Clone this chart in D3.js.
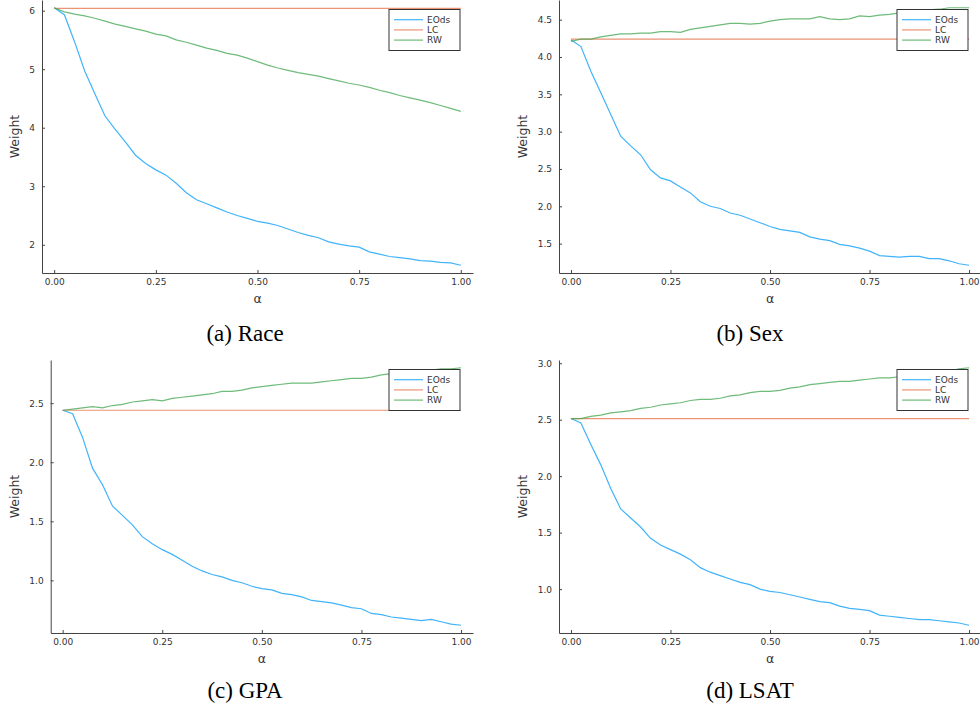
<!DOCTYPE html>
<html>
<head>
<meta charset="utf-8">
<script src="https://cdn.jsdelivr.net/npm/d3@7"></script>
<style>
  body { margin: 0; background: #fff; }
  svg { display: block; }
  .tick text { font-family: "DejaVu Sans", sans-serif; font-size: 9px; fill: #333; }
  .axis path, .axis line { stroke: #444; }
</style>
</head>
<body>
<div id="chart"></div>
<script>
// alpha grid shared by all four panels
const alpha = d3.range(41).map(i => i / 40);

// (a) Race
const raceEOds = [6.05, 5.93, 5.47, 4.97, 4.58, 4.20, 3.97, 3.76, 3.53, 3.39, 3.28, 3.19, 3.05, 2.89, 2.77, 2.70, 2.63, 2.56, 2.50, 2.45, 2.40,
                  2.37, 2.33, 2.27, 2.21, 2.16, 2.12, 2.05, 2.01, 1.98, 1.96, 1.88, 1.84, 1.80, 1.78, 1.76, 1.73, 1.72, 1.70, 1.69, 1.65];
const raceLC = 6.04;
const raceRW = [6.05, 5.98, 5.94, 5.91, 5.87, 5.82, 5.77, 5.73, 5.69, 5.65, 5.60, 5.57, 5.50, 5.46, 5.41, 5.36, 5.32, 5.27, 5.24, 5.19, 5.13,
                5.07, 5.02, 4.98, 4.94, 4.91, 4.88, 4.84, 4.80, 4.76, 4.73, 4.69, 4.64, 4.60, 4.55, 4.51, 4.47, 4.43, 4.38, 4.33, 4.28];

// (b) Sex
const sexEOds = [4.23, 4.14, 3.81, 3.52, 3.23, 2.94, 2.81, 2.69, 2.49, 2.38, 2.34, 2.26, 2.18, 2.06, 2.00, 1.97, 1.91, 1.88, 1.83, 1.78, 1.73,
                 1.69, 1.67, 1.65, 1.59, 1.56, 1.54, 1.49, 1.47, 1.44, 1.40, 1.34, 1.33, 1.32, 1.33, 1.33, 1.30, 1.30, 1.27, 1.23, 1.21];
const sexLC = 4.24;
const sexRW = [4.21, 4.24, 4.24, 4.27, 4.29, 4.31, 4.31, 4.32, 4.32, 4.34, 4.34, 4.33, 4.37, 4.39, 4.41, 4.43, 4.45, 4.45, 4.44, 4.45, 4.48,
               4.50, 4.51, 4.51, 4.51, 4.54, 4.51, 4.50, 4.51, 4.55, 4.54, 4.56, 4.57, 4.59, 4.61, 4.62, 4.63, 4.64, 4.66, 4.66, 4.66];

// (c) GPA
const gpaEOds = [2.44, 2.41, 2.21, 1.95, 1.81, 1.63, 1.55, 1.47, 1.37, 1.31, 1.26, 1.22, 1.17, 1.12, 1.08, 1.05, 1.03, 1.00, 0.98, 0.95, 0.93,
                 0.92, 0.89, 0.88, 0.86, 0.83, 0.82, 0.81, 0.79, 0.77, 0.76, 0.72, 0.71, 0.69, 0.68, 0.67, 0.66, 0.67, 0.65, 0.63, 0.62];
const gpaLC = 2.44;
const gpaRW = [2.44, 2.45, 2.46, 2.47, 2.46, 2.48, 2.49, 2.51, 2.52, 2.53, 2.52, 2.54, 2.55, 2.56, 2.57, 2.58, 2.60, 2.60, 2.61, 2.63, 2.64,
               2.65, 2.66, 2.67, 2.67, 2.67, 2.68, 2.69, 2.70, 2.71, 2.71, 2.72, 2.74, 2.75, 2.76, 2.77, 2.77, 2.78, 2.79, 2.79, 2.80];

// (d) LSAT
const lsatEOds = [2.51, 2.47, 2.28, 2.10, 1.89, 1.71, 1.63, 1.55, 1.45, 1.39, 1.35, 1.31, 1.26, 1.19, 1.15, 1.12, 1.09, 1.06, 1.04, 1.00, 0.98,
                  0.97, 0.95, 0.93, 0.91, 0.89, 0.88, 0.85, 0.83, 0.82, 0.81, 0.77, 0.76, 0.75, 0.74, 0.73, 0.73, 0.72, 0.71, 0.70, 0.68];
const lsatLC = 2.51;
const lsatRW = [2.51, 2.51, 2.53, 2.54, 2.56, 2.57, 2.58, 2.60, 2.61, 2.63, 2.64, 2.65, 2.67, 2.68, 2.68, 2.69, 2.71, 2.72, 2.74, 2.75, 2.75,
                2.76, 2.78, 2.79, 2.81, 2.82, 2.83, 2.84, 2.84, 2.85, 2.86, 2.87, 2.87, 2.88, 2.89, 2.90, 2.91, 2.92, 2.93, 2.95, 2.96];

const seriesNames = ["EOds", "LC", "RW"];
const xTicks = [0, 0.25, 0.5, 0.75, 1];
const captions = ["(a) Race", "(b) Sex", "(c) GPA", "(d) LSAT"];
const yTicks = [[2, 3, 4, 5, 6], [1.5, 2.0, 2.5, 3.0, 3.5, 4.0, 4.5], [1.0, 1.5, 2.0, 2.5], [1.0, 1.5, 2.0, 2.5, 3.0]];
const yFormats = ["d", ".1f", ".1f", ".1f"];

const colors = ["#009AFA", "#E36F47", "#3EA44E"];

const width = 980, height = 713;
const svg = d3.select("#chart").append("svg")
    .attr("width", width)
    .attr("height", height);

// plot areas (pixel rects) and label anchors per panel
const panels = [
  {eods: raceEOds, lc: raceLC, rw: raceRW, left: 42, right: 473, top: 0, bottom: 273, ylabX: 15, capX: 245, capY: 341},
  {eods: sexEOds, lc: sexLC, rw: sexRW, left: 559, right: 981, top: 0, bottom: 273, ylabX: 523, capX: 750, capY: 341},
  {eods: gpaEOds, lc: gpaLC, rw: gpaRW, left: 50.7, right: 473, top: 360, bottom: 633, ylabX: 15, capX: 245, capY: 698},
  {eods: lsatEOds, lc: lsatLC, rw: lsatRW, left: 559, right: 981, top: 360, bottom: 633, ylabX: 523, capX: 750, capY: 698}
];

// widen a range by 3% on each side, like Plots.jl does
function widen(ext) {
  let pad = (ext[1] - ext[0]) * 0.03;
  return [ext[0] - pad, ext[1] + pad];
}

panels.forEach((p, i) => {
  const lcLine = alpha.map(() => p.lc);
  const lines = [p.eods, lcLine, p.rw];

  const x = d3.scaleLinear()
      .domain(widen([0, 1]))
      .range([p.left, p.right]);
  const y = d3.scaleLinear()
      .domain(widen(d3.extent(lines.flat())))
      .range([p.bottom, p.top]);

  const g = svg.append("g");

  // lines
  const line = d3.line()
      .x((d, j) => x(alpha[j]))
      .y(d => y(d));
  lines.forEach((vals, k) => {
    g.append("path")
      .datum(vals)
      .attr("d", line)
      .attr("fill", "none")
      .attr("stroke", colors[k])
      .attr("stroke-opacity", 0.75)
      .attr("stroke-width", 1.2);
  });

  // axes, ticks pointing inward
  g.append("g")
    .attr("class", "axis")
    .attr("transform", `translate(0,${p.bottom})`)
    .call(d3.axisBottom(x).tickValues(xTicks).tickFormat(d3.format(".2f")).tickSize(-3).tickPadding(6).tickSizeOuter(0));
  g.append("g")
    .attr("class", "axis")
    .attr("transform", `translate(${p.left},0)`)
    .call(d3.axisLeft(y).tickValues(yTicks[i]).tickFormat(d3.format(yFormats[i])).tickSize(-3).tickPadding(7).tickSizeOuter(0));

  // axis labels
  g.append("text")
    .attr("x", (p.left + p.right) / 2)
    .attr("y", p.bottom + 30)
    .attr("text-anchor", "middle")
    .attr("font-family", "DejaVu Sans, sans-serif")
    .attr("font-size", 12.5)
    .attr("fill", "#333")
    .text("α");
  g.append("text")
    .attr("transform", `translate(${p.ylabX + 4},${(p.top + p.bottom) / 2}) rotate(-90)`)
    .attr("text-anchor", "middle")
    .attr("font-family", "DejaVu Sans, sans-serif")
    .attr("font-size", 12.5)
    .attr("fill", "#333")
    .text("Weight");

  // legend
  const lx = p.right - 84, ly = p.top + 9.5;
  const leg = g.append("g").attr("transform", `translate(${lx},${ly})`);
  leg.append("rect")
    .attr("width", 71)
    .attr("height", 41)
    .attr("fill", "#fff")
    .attr("stroke", "#333")
    .attr("stroke-width", 1);
  seriesNames.forEach((name, k) => {
    let yy = 10.2 + k * 10.2;
    leg.append("line")
      .attr("x1", 5).attr("x2", 34)
      .attr("y1", yy).attr("y2", yy)
      .attr("stroke", colors[k])
      .attr("stroke-opacity", 0.75)
      .attr("stroke-width", 1.2);
    leg.append("text")
      .attr("x", 38)
      .attr("y", yy + 3.3)
      .attr("font-family", "DejaVu Sans, sans-serif")
      .attr("font-size", 9)
      .attr("fill", "#333")
      .text(name);
  });

  // caption
  svg.append("text")
    .attr("x", p.capX)
    .attr("y", p.capY)
    .attr("text-anchor", "middle")
    .attr("font-family", "Liberation Serif, Times New Roman, serif")
    .attr("font-size", 23)
    .attr("fill", "#000")
    .text(captions[i]);
});
</script>
</body>
</html>
